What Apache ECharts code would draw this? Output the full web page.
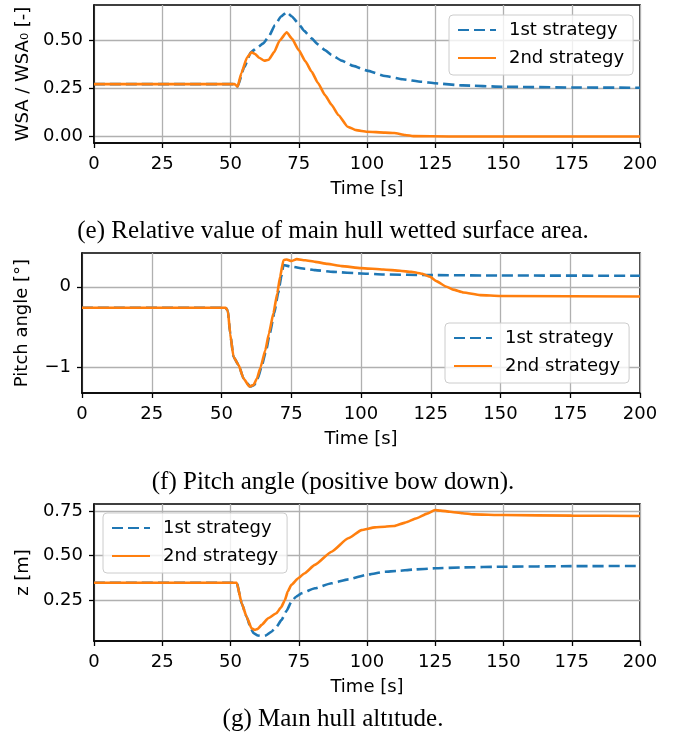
<!DOCTYPE html>
<html>
<head>
<meta charset="utf-8">
<script src="https://cdn.jsdelivr.net/npm/echarts@6/dist/echarts.min.js"></script>
<style>
html, body { margin: 0; padding: 0; background: #fff; }
#chart { width: 677px; height: 736px; }
</style>
</head>
<body>
<div id="chart"></div>
<script>
// tick labels
var timeTicks = [0, 25, 50, 75, 100, 125, 150, 175, 200];
var wsaTicks = [0, 0.25, 0.5];
var pitchTicks = [-1, 0];
var zTicks = [0.25, 0.5, 0.75];
var seriesNames = ['1st strategy', '2nd strategy'];
var captions = [
    '(e) Relative value of main hull wetted surface area.',
    '(f) Pitch angle (positive bow down).',
    '(g) Maın hull altıtude.'
];

// (e) WSA / WSA0
var wsaTime1 = [0, 52, 52.6, 55, 57.5, 60, 62, 64, 66.3, 68.5, 70.6, 72.5, 74.8, 77, 79.7, 82, 84.6, 87, 90.7, 95, 100, 106.6, 113, 120, 125, 135, 150, 175, 200];
var wsa1 = [0.273, 0.273, 0.26, 0.36, 0.44, 0.465, 0.485, 0.52, 0.58, 0.625, 0.648, 0.625, 0.59, 0.55, 0.511, 0.48, 0.45, 0.425, 0.395, 0.368, 0.343, 0.315, 0.298, 0.285, 0.277, 0.266, 0.259, 0.255, 0.254];
var wsaTime2 = [0, 51.5, 52.6, 54, 56, 57.7, 59, 60.5, 62.4, 64, 66, 68, 70.6, 72.5, 75, 77.5, 79.7, 82, 84.6, 87, 89.5, 92.9, 96, 100, 106.6, 110, 114, 117, 130, 150, 200];
var wsa2 = [0.273, 0.273, 0.26, 0.33, 0.41, 0.438, 0.43, 0.41, 0.395, 0.40, 0.44, 0.50, 0.543, 0.51, 0.45, 0.39, 0.338, 0.28, 0.216, 0.165, 0.112, 0.051, 0.033, 0.025, 0.02, 0.018, 0.008, 0.002, 0, 0, 0];

// (f) pitch angle
var pitchTime1 = [0, 51.5, 52.3, 53.1, 54.3, 56.1, 57.9, 60.3, 61.8, 63, 64.3, 66, 67.3, 68.9, 70.3, 71.4, 72.2, 75, 80, 83.6, 90, 100, 108, 125, 150, 200];
var pitch1 = [-0.26, -0.26, -0.3, -0.58, -0.87, -0.97, -1.14, -1.24, -1.22, -1.14, -1.0, -0.79, -0.58, -0.33, -0.08, 0.12, 0.27, 0.25, 0.225, 0.207, 0.185, 0.166, 0.153, 0.145, 0.14, 0.137];
var pitchTime2 = [0, 51.5, 52.3, 53.1, 54.3, 56.1, 57.9, 60, 61.5, 62.7, 64, 65.7, 67, 68.6, 70, 71, 72.2, 73.4, 75, 77, 80, 83.6, 88, 93.1, 100, 108, 114, 118, 120, 122, 124.8, 127, 130.7, 133, 136.7, 142.7, 150, 200];
var pitch2 = [-0.26, -0.26, -0.3, -0.58, -0.87, -0.97, -1.14, -1.24, -1.22, -1.14, -1.0, -0.79, -0.58, -0.33, -0.08, 0.124, 0.33, 0.34, 0.32, 0.344, 0.33, 0.31, 0.285, 0.257, 0.232, 0.215, 0.199, 0.185, 0.175, 0.16, 0.124, 0.07, 0.0, -0.035, -0.07, -0.103, -0.115, -0.12];

// (g) altitude
var zTime1 = [0, 52.3, 54.1, 55.9, 57.5, 58.5, 60, 61.4, 63, 65, 66.8, 68.7, 70.5, 72.3, 74, 76, 80.9, 87, 93.1, 100, 106.6, 110.8, 117, 124.9, 135, 150, 175, 200];
var z1 = [0.348, 0.348, 0.233, 0.158, 0.09, 0.065, 0.053, 0.05, 0.053, 0.074, 0.1, 0.14, 0.19, 0.242, 0.27, 0.289, 0.317, 0.345, 0.367, 0.393, 0.41, 0.414, 0.422, 0.429, 0.434, 0.438, 0.441, 0.442];
var zTime2 = [0, 52.3, 54.1, 55.9, 57.7, 58.9, 60, 61.4, 63.8, 66.8, 68.5, 69.9, 71, 72.3, 74.8, 77, 80.9, 87, 93.1, 98, 102.9, 106.6, 110, 114, 118.2, 122, 124.9, 127, 130.4, 135, 138.9, 150, 175, 200];
var z2 = [0.348, 0.348, 0.233, 0.158, 0.093, 0.084, 0.09, 0.112, 0.149, 0.177, 0.21, 0.25, 0.3, 0.336, 0.373, 0.4, 0.448, 0.522, 0.597, 0.643, 0.658, 0.662, 0.666, 0.685, 0.709, 0.735, 0.755, 0.752, 0.746, 0.737, 0.731, 0.727, 0.724, 0.722];

var colors = ['#1f77b4', '#ff7f0e'];
var font = 'DejaVu Sans';

function pairs(t, v) {
    return t.map(function (x, i) { return [x, v[i]]; });
}

var grids = [
    {left: 94, top: 5, width: 546, height: 138},
    {left: 82, top: 253, width: 558, height: 140},
    {left: 94, top: 504, width: 546, height: 137}
];

var xAxes = grids.map(function (g, i) {
    return {
        gridIndex: i,
        type: 'value',
        min: 0,
        max: 200,
        interval: 25,
        name: 'Time [s]',
        nameLocation: 'middle',
        nameGap: 37,
        nameTextStyle: {fontSize: 18, color: '#000', fontFamily: font},
        axisLine: {onZero: false, lineStyle: {color: '#000', width: 1.5}},
        axisTick: {length: 5, lineStyle: {color: '#000', width: 1.3}},
        axisLabel: {fontSize: 18, color: '#000', fontFamily: font, margin: 12, showMinLabel: true, showMaxLabel: true},
        splitLine: {show: true, lineStyle: {color: '#b0b0b0', width: 1.3}}
    };
});

function yAxis(i, name, gap, min, max, ticks, fmt) {
    return {
        gridIndex: i,
        type: 'value',
        min: min,
        max: max,
        name: name,
        nameLocation: 'middle',
        nameGap: gap,
        nameTextStyle: {fontSize: 18, color: '#000', fontFamily: font},
        axisLine: {onZero: false, lineStyle: {color: '#000', width: 1.5}},
        axisTick: {length: 5, customValues: ticks, lineStyle: {color: '#000', width: 1.3}},
        axisLabel: {fontSize: 18, color: '#000', fontFamily: font, margin: 11, customValues: ticks, formatter: fmt},
        splitLine: {show: true, lineStyle: {color: '#b0b0b0', width: 1.3}}
    };
}

var yAxes = [
    yAxis(0, 'WSA / WSA₀ [-]', 60, -0.034, 0.685, wsaTicks, function (v) { return v.toFixed(2); }),
    yAxis(1, 'Pitch angle [°]', 51, -1.32, 0.42, pitchTicks, function (v) { return String(v).replace('-', '−'); }),
    yAxis(2, 'z [m]', 60, 0.022, 0.789, zTicks, function (v) { return v.toFixed(2); })
];

function line(i, k, t, v) {
    return {
        name: seriesNames[k],
        type: 'line',
        xAxisIndex: i,
        yAxisIndex: i,
        data: pairs(t, v),
        symbol: 'none',
        smooth: 0.15,
        smoothMonotone: 'x',
        color: colors[k],
        lineStyle: {color: colors[k], width: 2.6, type: k === 0 ? [11, 5] : 'solid'},
        z: 2 + k
    };
}

function legend(left, top) {
    return {
        data: seriesNames,
        orient: 'vertical',
        left: left,
        top: top,
        padding: [6, 9, 8, 8],
        itemGap: 10,
        itemWidth: 38,
        itemHeight: 14,
        itemStyle: {opacity: 0},
        backgroundColor: 'rgba(255,255,255,0.8)',
        borderColor: '#cccccc',
        borderWidth: 1,
        borderRadius: 4,
        textStyle: {fontSize: 18, color: '#000', fontFamily: font, padding: [0, 0, 0, 8]}
    };
}

var captionY = [231, 482, 719];

var myChart = echarts.init(document.getElementById('chart'));
myChart.setOption({
    animation: false,
    grid: grids.map(function (g) {
        return {left: g.left, top: g.top, width: g.width, height: g.height, show: true, borderColor: '#000', borderWidth: 1.5};
    }),
    xAxis: xAxes,
    yAxis: yAxes,
    legend: [legend(449, 15), legend(445, 323), legend(103, 513)],
    graphic: captions.map(function (c, i) {
        return {
            type: 'text',
            x: 333,
            y: captionY[i],
            style: {text: c, fontSize: 25, fontFamily: 'Liberation Serif', fill: '#000', align: 'center', verticalAlign: 'middle'}
        };
    }),
    series: [
        line(0, 0, wsaTime1, wsa1),
        line(0, 1, wsaTime2, wsa2),
        line(1, 0, pitchTime1, pitch1),
        line(1, 1, pitchTime2, pitch2),
        line(2, 0, zTime1, z1),
        line(2, 1, zTime2, z2)
    ]
});
</script>
</body>
</html>
